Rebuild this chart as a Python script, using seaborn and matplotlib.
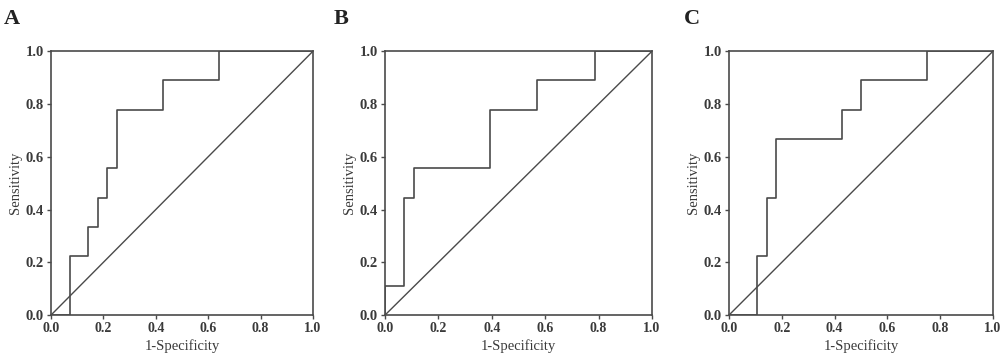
import matplotlib
matplotlib.use('Agg')
import matplotlib.pyplot as plt
import numpy as np
import pandas as pd
import seaborn as sns

# ROC step points (1-specificity, sensitivity)
a_fpr = [0.0, 0.071, 0.071, 0.143, 0.143, 0.179, 0.179, 0.214, 0.214, 0.25, 0.25, 0.429, 0.429, 0.643, 0.643, 1.0]
a_tpr = [0.0, 0.0, 0.222, 0.222, 0.333, 0.333, 0.444, 0.444, 0.556, 0.556, 0.778, 0.778, 0.889, 0.889, 1.0, 1.0]

b_fpr = [0.0, 0.0, 0.071, 0.071, 0.107, 0.107, 0.393, 0.393, 0.571, 0.571, 0.786, 0.786, 1.0]
b_tpr = [0.0, 0.111, 0.111, 0.444, 0.444, 0.556, 0.556, 0.778, 0.778, 0.889, 0.889, 1.0, 1.0]

c_fpr = [0.0, 0.107, 0.107, 0.143, 0.143, 0.179, 0.179, 0.429, 0.429, 0.5, 0.5, 0.75, 0.75, 1.0]
c_tpr = [0.0, 0.0, 0.222, 0.222, 0.444, 0.444, 0.667, 0.667, 0.778, 0.778, 0.889, 0.889, 1.0, 1.0]

panels = ['A', 'B', 'C']
ticks = [0.0, 0.2, 0.4, 0.6, 0.8, 1.0]

sns.set_style('white')
plt.rcParams['font.family'] = ['Liberation Serif', 'DejaVu Serif']

line_col = '#4a4a4a'
text_col = '#3a3a3a'

fig = plt.figure(figsize=(10, 3.63), dpi=100)

# axes positions (left, width) in figure fractions
positions = [(0.051, 0.262), (0.385, 0.267), (0.729, 0.264)]
letter_x = [0.004, 0.334, 0.684]
data = [(a_fpr, a_tpr), (b_fpr, b_tpr), (c_fpr, c_tpr)]

for i in range(3):
    left, width = positions[i]
    ax = fig.add_axes([left, 0.132, width, 0.727])
    fpr, tpr = data[i]
    df = pd.DataFrame({'fpr': fpr, 'tpr': tpr})
    sns.lineplot(data=df, x='fpr', y='tpr', sort=False, estimator=None,
                 color=line_col, linewidth=1.2, ax=ax)
    diag = pd.DataFrame({'x': [0.0, 1.0], 'y': [0.0, 1.0]})
    sns.lineplot(data=diag, x='x', y='y', sort=False, estimator=None,
                 color=line_col, linewidth=1.0, ax=ax)

    ax.set_xlim(0, 1)
    ax.set_ylim(0, 1)
    ax.set_xticks(ticks)
    ax.set_yticks(ticks)
    ax.set_xticklabels([f'{t:.1f}' for t in ticks], fontsize=10, fontweight='bold', color=text_col)
    ax.set_yticklabels([f'{t:.1f}' for t in ticks], fontsize=10.5, fontweight='bold', color=text_col)
    ax.tick_params(axis='both', direction='out', length=3, width=1, color=line_col, pad=2,
                   bottom=True, left=True)
    for sp in ax.spines.values():
        sp.set_color(line_col)
        sp.set_linewidth(1.2)
    ax.set_xlabel('1-Specificity', fontsize=10.5, color=text_col, labelpad=3)
    ax.set_ylabel('Sensitivity', fontsize=10.5, color=text_col, labelpad=3)
    fig.text(letter_x[i], 0.975, panels[i], fontsize=16, fontweight='bold',
             color='#222222', ha='left', va='top')

fig.savefig('out.png', dpi=100)
